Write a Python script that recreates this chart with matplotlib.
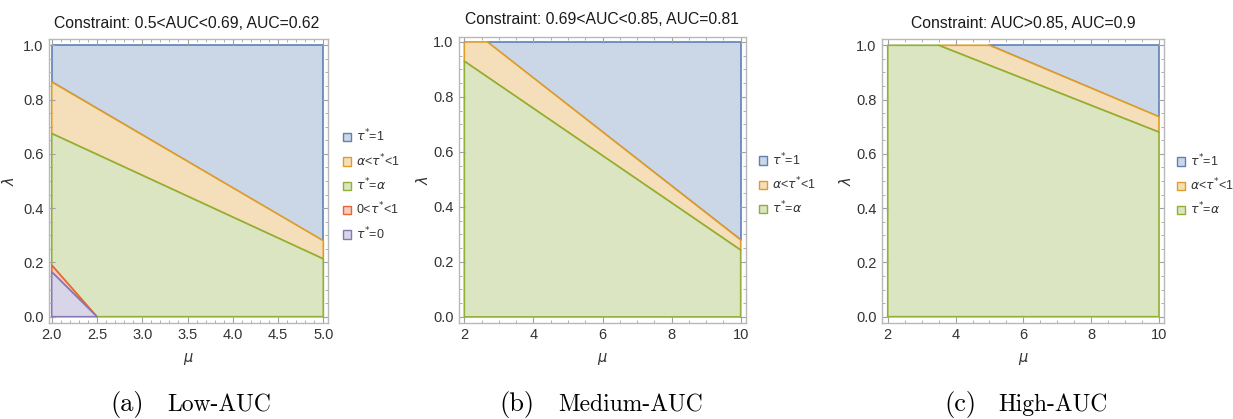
import matplotlib.pyplot as plt
from matplotlib.patches import Polygon, Patch
from matplotlib.ticker import MultipleLocator, FormatStrFormatter

# Panel (a): Low-AUC, mu in [2, 5]
a_mu = [2.0, 5.0]
a_blue_edge = [0.865, 0.280]    # blue / orange boundary at mu=2 and mu=5
a_green_edge = [0.675, 0.213]   # orange / green boundary
a_red_top = 0.190               # red band top at mu=2
a_purple_top = 0.165            # purple top at mu=2
a_zero_mu = 2.5                 # where red/purple wedges meet lambda=0

# Panel (b): Medium-AUC, mu in [2, 10]
b_mu = [2.0, 10.0]
b_blue_cross = 2.67             # blue / orange boundary hits lambda=1
b_blue_end = 0.280              # blue / orange boundary at mu=10
b_green_edge = [0.930, 0.243]   # orange / green boundary

# Panel (c): High-AUC, mu in [2, 10]
c_mu = [2.0, 10.0]
c_blue_cross = 5.0
c_blue_end = 0.737
c_green_cross = 3.5
c_green_end = 0.680

titles = ['Constraint: 0.5<AUC<0.69, AUC=0.62',
          'Constraint: 0.69<AUC<0.85, AUC=0.81',
          'Constraint: AUC>0.85, AUC=0.9']
caption_tags = ['(a)', '(b)', '(c)']
caption_names = ['Low-AUC', 'Medium-AUC', 'High-AUC']
legend_labels = [r'$\tau^{*}$=1', r'$\alpha$<$\tau^{*}$<1', r'$\tau^{*}$=$\alpha$',
                 r'0<$\tau^{*}$<1', r'$\tau^{*}$=0']

fills = ['#cbd6e7', '#f5dfbb', '#dbe5c2', '#f6cbbb', '#d9d5e8']
edges = ['#5e81b5', '#e19c24', '#8fb032', '#eb6235', '#8778b3']

plt.rcParams['font.family'] = ['Liberation Sans', 'DejaVu Sans']
plt.rcParams['mathtext.fontset'] = 'dejavusans'

W, H = 1233, 419
fig = plt.figure(figsize=(W / 100, H / 100), dpi=100)


def make_axes(frame, xlim, ylim, ylab_x):
    # frame given in pixels: left, right, top, bottom
    l, r, t, b = frame
    ax = fig.add_axes([l / W, 1 - b / H, (r - l) / W, (b - t) / H])
    ax.set_xlim(*xlim)
    ax.set_ylim(*ylim)
    for s in ax.spines.values():
        s.set_color('#b8b8b8')
        s.set_linewidth(1.0)
    ax.tick_params(which='both', direction='in', top=True, right=True,
                   color='#a0a0a0', labelsize=10.5, labelcolor='#333333', pad=4)
    ax.tick_params(which='major', length=4, width=0.8)
    ax.tick_params(which='minor', length=2.5, width=0.6)
    ax.yaxis.set_major_locator(MultipleLocator(0.2))
    ax.yaxis.set_minor_locator(MultipleLocator(0.05))
    ax.yaxis.set_major_formatter(FormatStrFormatter('%.1f'))
    ax.set_ylabel(r'$\lambda$', fontsize=10.5, color='#333333')
    ax.yaxis.set_label_coords(ylab_x, 0.5)
    ax.set_xlabel(r'$\mu$', fontsize=10.5, color='#333333', labelpad=6)
    return ax


def region(ax, pts, i):
    ax.add_patch(Polygon(pts, closed=True, facecolor=fills[i], edgecolor=edges[i],
                         linewidth=1.2, joinstyle='round'))


# ---- panel (a)
ax1 = make_axes((49.3, 328.3, 39.3, 322.7), (1.9735, 5.055), (-0.022, 1.022), -0.115)
x0, x1 = a_mu
region(ax1, [(x0, a_blue_edge[0]), (x0, 1), (x1, 1), (x1, a_blue_edge[1])], 0)
region(ax1, [(x0, a_green_edge[0]), (x0, a_blue_edge[0]), (x1, a_blue_edge[1]),
             (x1, a_green_edge[1])], 1)
region(ax1, [(x0, a_red_top), (x0, a_green_edge[0]), (x1, a_green_edge[1]), (x1, 0),
             (a_zero_mu, 0)], 2)
region(ax1, [(x0, a_purple_top), (x0, a_red_top), (a_zero_mu, 0)], 3)
region(ax1, [(x0, 0), (x0, a_purple_top), (a_zero_mu, 0)], 4)
ax1.xaxis.set_major_locator(MultipleLocator(0.5))
ax1.xaxis.set_minor_locator(MultipleLocator(0.1))
ax1.xaxis.set_major_formatter(FormatStrFormatter('%.1f'))

# ---- panel (b)
ax2 = make_axes((459.3, 746.0, 36.7, 322.7), (1.855, 10.153), (-0.021, 1.019), -0.099)
x0, x1 = b_mu
region(ax2, [(b_blue_cross, 1), (x1, 1), (x1, b_blue_end)], 0)
region(ax2, [(x0, b_green_edge[0]), (x0, 1), (b_blue_cross, 1), (x1, b_blue_end),
             (x1, b_green_edge[1])], 1)
region(ax2, [(x0, 0), (x0, b_green_edge[0]), (x1, b_green_edge[1]), (x1, 0)], 2)

# ---- panel (c)
ax3 = make_axes((882.3, 1164.3, 39.3, 322.7), (1.84, 10.156), (-0.022, 1.022), -0.100)
x0, x1 = c_mu
region(ax3, [(c_blue_cross, 1), (x1, 1), (x1, c_blue_end)], 0)
region(ax3, [(c_green_cross, 1), (c_blue_cross, 1), (x1, c_blue_end), (x1, c_green_end)], 1)
region(ax3, [(x0, 0), (x0, 1), (c_green_cross, 1), (x1, c_green_end), (x1, 0)], 2)

for ax in (ax2, ax3):
    ax.xaxis.set_major_locator(MultipleLocator(2))
    ax.xaxis.set_minor_locator(MultipleLocator(0.5))

# titles
title_pos = [(187, 23), (602, 20), (1023, 23)]
for (tx, ty), t in zip(title_pos, titles):
    fig.text(tx / W, 1 - ty / H, t, ha='center', va='center', fontsize=11.3, color='#1a1a1a')

# legends
legend_pos = [(343, 185), (759, 184), (1177, 185)]
for ax, (lx, ly), n in zip((ax1, ax2, ax3), legend_pos, (5, 3, 3)):
    handles = [Patch(facecolor=fills[i], edgecolor=edges[i], linewidth=1.0, label=legend_labels[i])
               for i in range(n)]
    ax.legend(handles=handles, loc='center left', bbox_to_anchor=(lx / W, 1 - ly / H),
              bbox_transform=fig.transFigure, frameon=False, fontsize=9.0,
              handlelength=0.65, handleheight=0.65, handletextpad=0.4, labelspacing=0.62,
              borderpad=0, borderaxespad=0, labelcolor='#333333')

# captions
tag_pos = [127, 517, 960]
name_pos = [167, 558, 998]
for tx, nx, tag, name in zip(tag_pos, name_pos, caption_tags, caption_names):
    fig.text(tx / W, 1 - 404 / H, tag, ha='center', va='center', fontsize=19, family='cmr10')
    fig.text(nx / W, 1 - 405 / H, name, ha='left', va='center', fontsize=17, family='cmr10')

fig.savefig('out.png', dpi=100)
